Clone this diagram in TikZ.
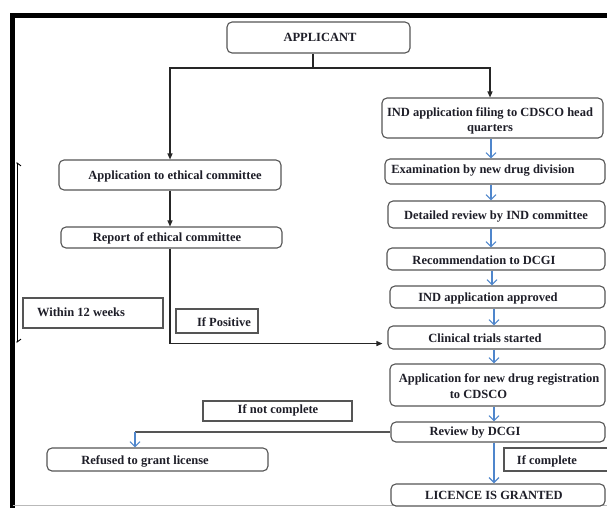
\documentclass[tikz,border=0pt]{standalone}
\usepackage{fontspec}
\setmainfont{Liberation Serif}
\usetikzlibrary{arrows.meta,fit,calc}
\definecolor{bordergray}{HTML}{555555}
\definecolor{arrowblue}{HTML}{4F86CC}
\definecolor{txtcol}{HTML}{1E1E28}
\tikzset{
  rbox/.style={draw=bordergray, line width=1.1pt, rounded corners=5pt, inner sep=0pt, fill=white},
  sbox/.style={draw=bordergray, line width=1.1pt, inner sep=0pt, fill=white},
  lbl/.style={text=txtcol, font=\bfseries\fontsize{12.5}{15.5}\selectfont, inner sep=0pt, align=left},
  barr/.style={draw=arrowblue, line width=1.1pt, -{Straight Barb[length=5pt,width=10pt]}},
  karr/.style={draw=black!85, line width=1.1pt, -{Triangle[length=6pt,width=5pt]}},
  kline/.style={draw=black!85, line width=1.1pt},
  gline/.style={draw=bordergray, line width=1.1pt},
}
\begin{document}
\begin{tikzpicture}[x=1pt,y=-1pt]
\useasboundingbox (0,0) rectangle (607,507);
\clip (0,0) rectangle (607,507);
\fill[white] (0,0) rectangle (607,507);
% frame
\draw[line width=5pt] (12.5,510) -- (12.5,15.5) -- (610,15.5);
\draw[gray!55, line width=0.8pt] (12.5,505.5) -- (610,505.5);

% boxes
\node[rbox, fit={(227,22) (410,53)}] (app) {};
\node[lbl] (appT) at (320,37) {APPLICANT};

\node[rbox, fit={(382,98) (603,138)}] (ind) {};
\node[lbl, align=center] (indT) at (490,121) {IND application filing to CDSCO head\\quarters};

\node[rbox, fit={(385,159) (605,184)}] (exam) {};
\node[lbl] (examT) at (483,171) {Examination by new drug division};

\node[rbox, fit={(388,201) (605,228)}] (det) {};
\node[lbl] (detT) at (496,217) {Detailed review by IND committee};

\node[rbox, fit={(387,248) (605,270)}] (rec) {};
\node[lbl] (recT) at (484,260) {Recommendation to DCGI};

\node[rbox, fit={(390,286) (605,308)}] (appr) {};
\node[lbl] (apprT) at (488,298) {IND application approved};

\node[rbox, fit={(388,326) (605,349)}] (clin) {};
\node[lbl] (clinT) at (485,338) {Clinical trials started};

\node[rbox, fit={(390,364) (605,406)}] (newd) {};
\node[lbl] (newdT) at (499,386) {Application for new drug registration\\\hspace*{51pt}to CDSCO};

\node[rbox, fit={(391,422) (605,442)}] (rev) {};
\node[lbl] (revT) at (475,433) {Review by DCGI};

\node[rbox, fit={(391,484) (605,506)}] (lic) {};
\node[lbl] (licT) at (494,495) {LICENCE IS GRANTED};

\node[sbox, fit={(504,448) (615,471)}] (ifc) {};
\node[lbl] (ifcT) at (547,461) {If complete};

\node[sbox, fit={(203,401) (352,421)}] (ifnc) {};
\node[lbl] (ifncT) at (278,410) {If not complete};

\node[rbox, fit={(47,448) (268,471)}] (ref) {};
\node[lbl] (refT) at (145,461) {Refused to grant license};

\node[rbox, fit={(59,160) (281,190)}] (appeth) {};
\node[lbl] (appethT) at (175,176) {Application to ethical committee};

\node[rbox, fit={(61,227) (282,248)}] (rep) {};
\node[lbl] (repT) at (167,238) {Report of ethical committee};

\node[sbox, fit={(23,298) (163,328)}] (within) {};
\node[lbl] (withinT) at (81,312) {Within 12 weeks};

\node[sbox, fit={(176,309) (258,333)}] (ifpos) {};
\node[lbl] (ifposT) at (224,322) {If Positive};

% black connectors
\coordinate (split) at (313,68);
\draw[kline] (app.south -| split) -- (split);
\draw[karr] (split) -| (ind.north -| 490,0);
\draw[karr] (split) -| (appeth.north -| 170,0);
\draw[karr] (appeth.south -| 170,0) -- (rep.north -| 170,0);
\coordinate (clinin) at ([xshift=-5pt,yshift=6pt]clin.south west);
\draw[karr] (rep.south -| 170,0) |- (clinin);

% blue connectors
\draw[barr] (ind.south -| 491,0) -- (exam.north -| 491,0);
\draw[barr] (exam.south -| 491,0) -- (det.north -| 491,0);
\draw[barr] (det.south -| 491,0) -- (rec.north -| 491,0);
\draw[barr] (rec.south -| 492,0) -- (appr.north -| 492,0);
\draw[barr] (appr.south -| 494,0) -- (clin.north -| 494,0);
\draw[barr] (clin.south -| 494,0) -- (newd.north -| 494,0);
\draw[barr] (newd.south -| 494,0) -- (rev.north -| 494,0);
\draw[barr, line width=1.3pt] (rev.south -| 494,0) -- (lic.north -| 494,0);
\coordinate (refturn) at (rev.west -| 135,0);
\draw[gline] (rev.west) -- (refturn);
\draw[barr] (refturn) -- (ref.north -| 135,0);

% left span bracket
\coordinate (spantop) at (17,162);
\coordinate (spanbot) at (17,343);
\draw[black, line width=0.9pt, {Straight Barb[harpoon,swap,length=3pt,width=8pt]}-{Straight Barb[harpoon,length=3pt,width=8pt]}] (spantop) -- (spanbot);
\end{tikzpicture}
\end{document}
